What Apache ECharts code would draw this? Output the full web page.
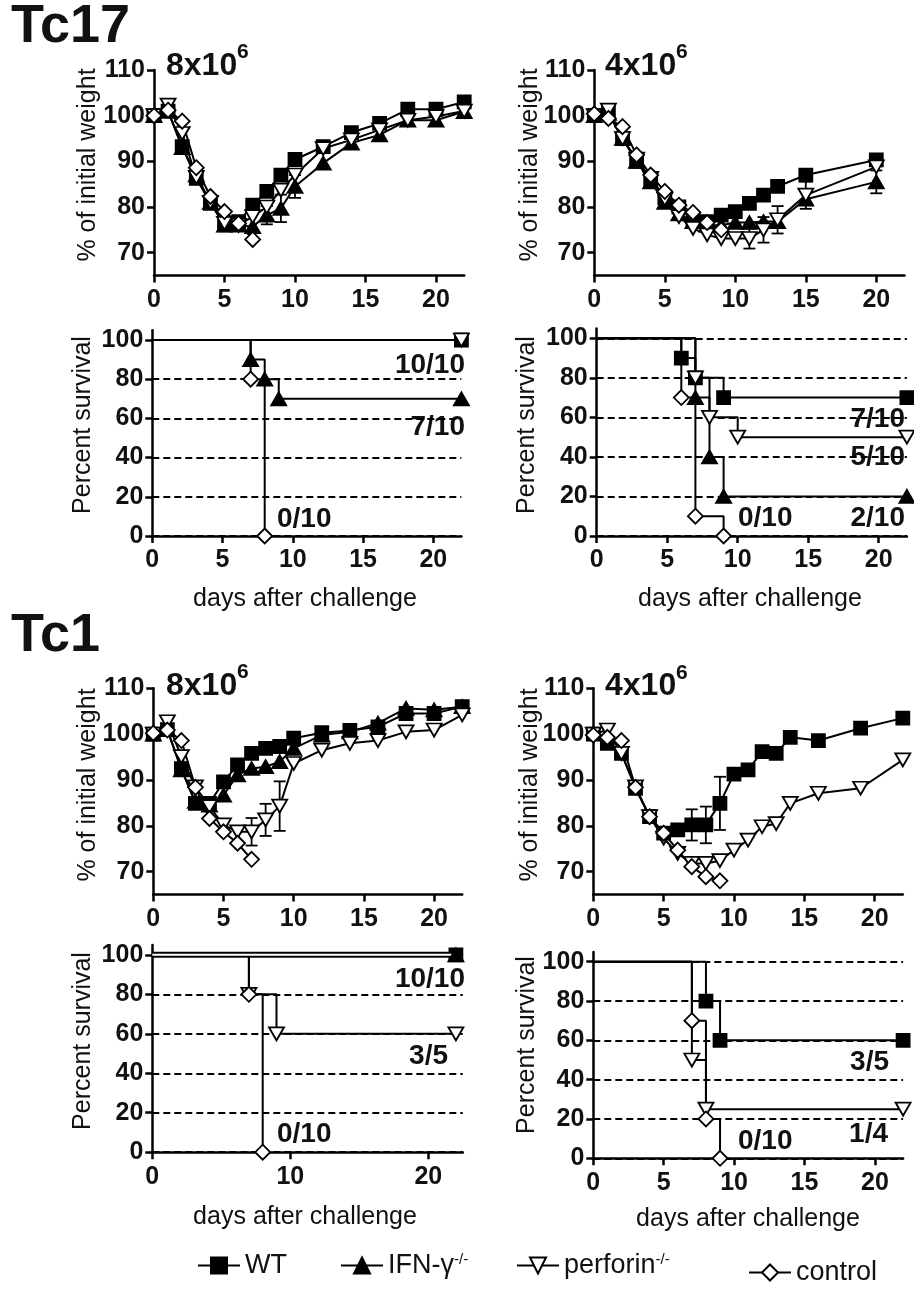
<!DOCTYPE html>
<html><head><meta charset="utf-8">
<script src="https://cdn.jsdelivr.net/npm/echarts@6/dist/echarts.min.js"></script>
<style>html,body{margin:0;padding:0;background:#fff}#c{width:914px;height:1291px}</style>
</head><body><div id="c"></div><script>
// ================= DATA =================
// --- Tc17, 8x10^6, body weight (% of initial)
const tc17A_days = [0,1,2,3,4,5,6,7,8,9,10,12,14,16,18,20,22];
const tc17A_WT   = [100,101,93.2,86.3,80.8,76.1,76.8,80.4,83.4,87,90.4,93.2,96.3,98.3,101.4,101.4,103];
const tc17A_IFN  = [100,101,93,87,81,76,76,75.7,78.2,79.7,84.5,89.6,94,95.8,99,99,100.9];
const tc17A_IFN_sem = [0,0,0,0,0,0,0,0,2,3,2.5,0,0,0,0,0,0];
const tc17A_perf = [100,102.3,96.1,86.5,81,76.4,76,77.9,80,83.7,87,92.8,94.7,96.9,99,99.8,101];
const tc17A_ctrl_days = [0,1,2,3,4,5,6,7];
const tc17A_ctrl = [100,101.2,98.8,88.6,82.3,79,76.4,72.9];

// --- Tc17, 4x10^6, body weight
const tc17B_days = [0,1,2,3,4,5,6,7,8,9,10,11,12,13,15,20];
const tc17B_WT   = [100,100.5,95,90,86,82,80,77.2,76.8,78.2,79,80.8,82.6,84.5,87,90.3];
const tc17B_IFN  = [100,100.5,95,90,85.5,81,78.5,76.8,76,76,76.6,76.6,76.8,76.8,81.7,85.5];
const tc17B_IFN_sem = [0,0,0,0,0,0,0,0,0,0,0,0,0,0,0,2.5];
const tc17B_perf = [100,101.2,95,90.5,86.3,81.7,77.9,75.3,73.9,73.1,73.1,73.1,75,77.2,82.6,88.8];
const tc17B_perf_sem = [0,0,0,0,0,0,0,0,0,0,0,2.2,2.8,3,3,0];
const tc17B_ctrl_days = [0,1,2,3,4,5,6,7,8,9];
const tc17B_ctrl = [100.4,99.4,97.6,91.4,87,83.4,80.4,78.8,76.6,75];

// --- Tc1, 8x10^6, body weight
const tc1A_days = [0,1,2,3,4,5,6,7,8,9,10,12,14,16,18,20,22];
const tc1A_WT   = [100,101,92.5,84.9,84.9,89.6,93.3,95.8,96.9,97.3,99.1,100.3,100.8,101.6,104.5,104.5,106];
const tc1A_IFN  = [100,101,92.2,85.3,84.5,86.7,91.1,92.5,92.9,94,96.9,99.8,100.5,102.4,105.6,105.3,106];
const tc1A_perf = [100,102.7,95.1,88.5,84.2,80.2,78.7,78.7,81.3,84.3,93.6,96.5,98,98.6,100.5,100.9,104.2];
const tc1A_perf_sem = [0,0,0,0,0,0,0,3,3.5,5.4,0,0,0,0,0,0,0];
const tc1A_ctrl_days = [0,1,2,3,4,5,6,7];
const tc1A_ctrl = [100.2,100.9,98.6,88.4,81.6,78.7,76.2,72.7];

// --- Tc1, 4x10^6, body weight
const tc1B_days = [0,1,2,3,4,5,6,7,8,9,10,11,12,13,14,16,19,22];
const tc1B_WT   = [100,98,95.8,88.2,82,78.4,79.1,80.2,80.2,84.9,91.3,92.2,96.2,95.8,99.3,98.6,101.3,103.5];
const tc1B_WT_sem = [0,0,0,0,0,0,0,3.4,4,5.8,0,0,0,0,0,0,0,0];
const tc1B_perf = [100,100.9,95.8,88.5,82,77.3,74,71.8,71.8,72.4,74.7,76.9,79.8,80.5,84.9,87.1,88.2,94.4];
const tc1B_ctrl_days = [0,1,2,3,4,5,6,7,8,9];
const tc1B_ctrl = [99.8,99.3,98.6,88.4,82,78.4,74.7,71.1,68.9,68];

// --- survival [day, percent]
const s17A_WT   = [[0,100],[22,100]];
const s17A_IFN  = [[0,100],[7,90],[8,80],[9,70],[22,70]];
const s17A_perf = [[0,100],[22,100]];
const s17A_ctrl = [[0,100],[7,80],[8,0]];

const s17B_WT   = [[0,100],[6,90],[7,80],[9,70],[22,70]];
const s17B_IFN  = [[0,100],[7,70],[8,40],[9,20],[22,20]];
const s17B_perf = [[0,100],[7,80],[8,60],[10,50],[22,50]];
const s17B_ctrl = [[0,100],[6,70],[7,10],[9,0]];

const s1A_WT   = [[0,100],[22,100]];
const s1A_IFN  = [[0,100],[22,100]];
const s1A_perf = [[0,100],[7,80],[9,60],[22,60]];
const s1A_ctrl = [[0,100],[7,80],[8,0]];

const s1B_WT   = [[0,100],[8,80],[9,60],[22,60]];
const s1B_perf = [[0,100],[7,50],[8,25],[22,25]];
const s1B_ctrl = [[0,100],[7,70],[8,20],[9,0]];

// tick labels
const weightTicks = [70,80,90,100,110];
const survTicks = [0,20,40,60,80,100];
const dayTicks = [0,5,10,15,20];
const dayTicksWide = [0,10,20];

// ================= CHART =================
const F = '"Liberation Sans", Arial, Helvetica, sans-serif';
const FN = '"Liberation Sans Narrow", "Arial Narrow", "Liberation Sans", sans-serif';
const INK = '#111';

const grids = [
  {left:154,   top:70,    width:310.2, height:205.5},
  {left:594.3, top:70,    width:310.2, height:205.5},
  {left:152.3, top:330.2, width:309.1, height:205.8},
  {left:596.7, top:328.4, width:310.2, height:207.6},
  {left:153.3, top:688.3, width:308.9, height:206.3},
  {left:593.3, top:688.3, width:309.5, height:206.3},
  {left:152.3, top:945,   width:310.5, height:207.2},
  {left:593.3, top:951.9, width:309.8, height:206.4}
].map(g => Object.assign({outerBoundsMode:'none', containLabel:false}, g));

const tickFont = {color:INK, fontFamily:FN, fontWeight:'bold', fontSize:25};

function xAx(g, max, ticks, margin) {
  return {type:'value', gridIndex:g, min:0, max:max,
    axisLine:{show:true, onZero:false, lineStyle:{color:'#000', width:2.5}},
    axisTick:{show:true, length:7, customValues:ticks, lineStyle:{color:'#000', width:2.5}},
    axisLabel:Object.assign({show:true, customValues:ticks, margin:margin}, tickFont),
    splitLine:{show:false}};
}
function yAx(g, min, max, ticks, dashed) {
  return {type:'value', gridIndex:g, min:min, max:max,
    axisLine:{show:true, onZero:false, lineStyle:{color:'#000', width:2.5}},
    axisTick:{show:true, length:7, customValues:ticks, lineStyle:{color:'#000', width:2.5}},
    axisLabel:Object.assign({show:true, customValues:ticks, margin:9}, tickFont),
    splitLine:{show:!!dashed, lineStyle:{color:'#000', width:2, type:[7,4]}}};
}

const xAxis = [
  xAx(0,22,dayTicks,12), xAx(1,22,dayTicks,12),
  xAx(2,22,dayTicks,12), xAx(3,22,dayTicks,12),
  xAx(4,22,dayTicks,12), xAx(5,22,dayTicks,12),
  xAx(6,22.5,dayTicksWide,12), xAx(7,22,dayTicks,12)
];
const yAxis = [
  yAx(0,65,110,weightTicks,false), yAx(1,65,110,weightTicks,false),
  yAx(2,0,105,survTicks,true), yAx(3,0,105,survTicks,true),
  yAx(4,65,110,weightTicks,false), yAx(5,65,110,weightTicks,false),
  yAx(6,0,105,survTicks,true), yAx(7,0,105,survTicks,true)
];

const STY = {
  WT:       {symbol:'rect',     size:[13,13], rotate:0,   fill:'#000'},
  IFN:      {symbol:'triangle', size:[15,13], rotate:0,   fill:'#000'},
  perforin: {symbol:'triangle', size:[15,13], rotate:180, fill:'#fff'},
  control:  {symbol:'diamond',  size:[15,15], rotate:0,   fill:'#fff'}
};

const series = [];

function errRender(params, api) {
  const x = api.value(0), y = api.value(1), e = api.value(2);
  const hi = api.coord([x, y + e]), lo = api.coord([x, y - e]);
  const cap = 6;
  const st = {stroke:'#000', lineWidth:1.8};
  return {type:'group', children:[
    {type:'line', shape:{x1:hi[0], y1:hi[1], x2:lo[0], y2:lo[1]}, style:st},
    {type:'line', shape:{x1:hi[0]-cap, y1:hi[1], x2:hi[0]+cap, y2:hi[1]}, style:st},
    {type:'line', shape:{x1:lo[0]-cap, y1:lo[1], x2:lo[0]+cap, y2:lo[1]}, style:st}
  ]};
}

function addWeight(g, name, days, vals, sem, z) {
  const s = STY[name];
  if (sem) {
    series.push({type:'custom', name:'err-'+name+'-'+g, xAxisIndex:g, yAxisIndex:g, z:1,
      renderItem: errRender, silent:true, animation:false,
      data: days.map((d,i) => [d, vals[i], sem[i]]).filter(r => r[2] > 0)});
  }
  series.push({type:'line', name:name, xAxisIndex:g, yAxisIndex:g, z:z || 2,
    data: days.map((d,i) => [d, vals[i]]),
    symbol:s.symbol, symbolSize:s.size, symbolRotate:s.rotate, showAllSymbol:true,
    lineStyle:{color:'#000', width:2}, itemStyle:{color:s.fill, borderColor:'#000', borderWidth:1.8},
    emphasis:{disabled:true}, animation:false, silent:true});
}

function addSurv(g, name, pts, opts) {
  const s = STY[name];
  opts = opts || {};
  series.push({type:'line', name:name, xAxisIndex:g, yAxisIndex:g, step:'end', z:opts.z || 2,
    data: pts.map((p,i) => i === 0 ? {value:p, symbol:'none'} : {value:p}),
    symbol:s.symbol, symbolSize:s.size, symbolRotate:s.rotate, showAllSymbol:true,
    lineStyle:{color:opts.lineColor || '#000', width:opts.lineWidth || 2},
    itemStyle:{color:s.fill, borderColor:'#000', borderWidth:1.8},
    emphasis:{disabled:true}, animation:false, silent:true});
}

// weight panels
addWeight(0,'WT',tc17A_days,tc17A_WT);
addWeight(0,'IFN',tc17A_days,tc17A_IFN,tc17A_IFN_sem);
addWeight(0,'perforin',tc17A_days,tc17A_perf);
addWeight(0,'control',tc17A_ctrl_days,tc17A_ctrl);

addWeight(1,'WT',tc17B_days,tc17B_WT);
addWeight(1,'IFN',tc17B_days,tc17B_IFN,tc17B_IFN_sem);
addWeight(1,'perforin',tc17B_days,tc17B_perf,tc17B_perf_sem);
addWeight(1,'control',tc17B_ctrl_days,tc17B_ctrl);

addWeight(4,'WT',tc1A_days,tc1A_WT);
addWeight(4,'IFN',tc1A_days,tc1A_IFN);
addWeight(4,'perforin',tc1A_days,tc1A_perf,tc1A_perf_sem);
addWeight(4,'control',tc1A_ctrl_days,tc1A_ctrl);

addWeight(5,'WT',tc1B_days,tc1B_WT,tc1B_WT_sem);
addWeight(5,'perforin',tc1B_days,tc1B_perf);
addWeight(5,'control',tc1B_ctrl_days,tc1B_ctrl);

// survival panels
addSurv(2,'WT',s17A_WT);
addSurv(2,'IFN',s17A_IFN);
addSurv(2,'perforin',s17A_perf);
addSurv(2,'control',s17A_ctrl);

addSurv(3,'WT',s17B_WT);
addSurv(3,'IFN',s17B_IFN);
addSurv(3,'perforin',s17B_perf);
addSurv(3,'control',s17B_ctrl);

addSurv(6,'perforin',s1A_perf);
addSurv(6,'control',s1A_ctrl);
addSurv(6,'WT',s1A_WT,{lineWidth:6, z:3});
addSurv(6,'IFN',s1A_IFN,{lineColor:'#fff', lineWidth:2, z:4});

addSurv(7,'WT',s1B_WT);
addSurv(7,'perforin',s1B_perf);
addSurv(7,'control',s1B_ctrl);

// texts
function txt(t, x, y, font, align, rot) {
  return {type:'text', x:x, y:y, rotation:rot || 0, silent:true,
    style:{text:t, font:font, fill:INK, align:align || 'left', verticalAlign:'middle'}};
}
const big = 'bold 54px ' + F;
const dose = 'bold 32px ' + F;
const sup = 'bold 21px ' + F;
const title = '25px ' + F;
const frac = 'bold 28px ' + F;
const R = Math.PI / 2;

const graphic = [
  txt('Tc17', 11, 27.5, big),
  txt('Tc1', 11, 636, big),
  txt('8x10', 166, 66.5, dose), txt('6', 237, 52, sup),
  txt('4x10', 605, 66.5, dose), txt('6', 676, 52, sup),
  txt('8x10', 166, 686, dose), txt('6', 237, 672, sup),
  txt('4x10', 605, 686, dose), txt('6', 676, 673, sup),
  txt('% of initial weight', 88, 165, title, 'center', R),
  txt('% of initial weight', 530, 165, title, 'center', R),
  txt('Percent survival', 83, 425, title, 'center', R),
  txt('Percent survival', 527, 425, title, 'center', R),
  txt('% of initial weight', 88, 785, title, 'center', R),
  txt('% of initial weight', 530, 785, title, 'center', R),
  txt('Percent survival', 83, 1041, title, 'center', R),
  txt('Percent survival', 527, 1045, title, 'center', R),
  txt('days after challenge', 305, 599, title, 'center'),
  txt('days after challenge', 750, 599, title, 'center'),
  txt('days after challenge', 305, 1217, title, 'center'),
  txt('days after challenge', 748, 1219, title, 'center'),
  // fractions of survivors
  txt('10/10', 465, 365, frac, 'right'),
  txt('7/10', 465, 427, frac, 'right'),
  txt('0/10', 277, 519, frac, 'left'),
  txt('7/10', 905, 419, frac, 'right'),
  txt('5/10', 905, 457.5, frac, 'right'),
  txt('2/10', 905, 518.5, frac, 'right'),
  txt('0/10', 738, 518.5, frac, 'left'),
  txt('10/10', 465, 979, frac, 'right'),
  txt('3/5', 448, 1056, frac, 'right'),
  txt('0/10', 277, 1134, frac, 'left'),
  txt('3/5', 889, 1062.5, frac, 'right'),
  txt('1/4', 888, 1134.5, frac, 'right'),
  txt('0/10', 738, 1141.5, frac, 'left')
];

const legendNames = ['WT','IFN','perforin','control'];
const legendText = {WT:'WT', IFN:'{n|IFN-γ}{s|-/-}', perforin:'{n|perforin}{s|-/-}', control:'control'};
const legendPos = [[197,1252],[340,1252],[516,1252],[748,1259]];
const legend = legendNames.map((n,i) => ({
  data:[n], left:legendPos[i][0], top:legendPos[i][1], padding:0,
  itemWidth:42, itemHeight:20, itemGap:0, selectedMode:false,
  formatter: name => legendText[name],
  textStyle:{fontFamily:F, fontSize:27, color:INK, padding:[0,0,0,0],
    rich:{n:{fontFamily:F, fontSize:27, color:INK}, s:{fontFamily:F, fontSize:15, color:INK, verticalAlign:'top'}}}
}));

const chart = echarts.init(document.getElementById('c'), null, {renderer:'canvas'});
chart.setOption({
  animation:false,
  backgroundColor:'#fff',
  grid:grids, xAxis:xAxis, yAxis:yAxis, series:series,
  graphic:graphic, legend:legend
});
</script></body></html>
